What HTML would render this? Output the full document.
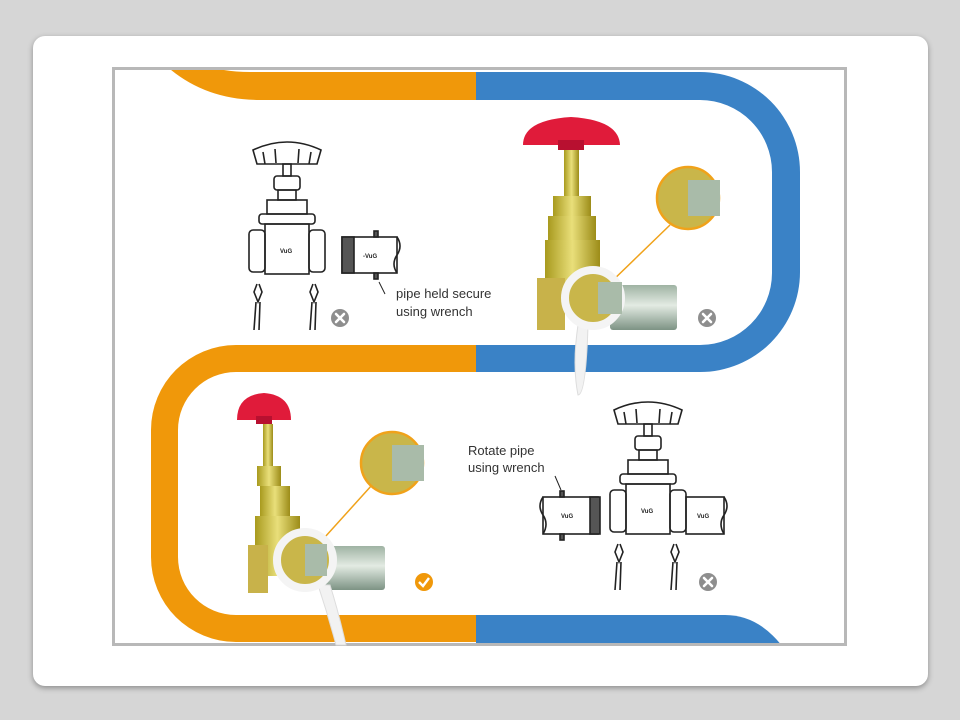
<!DOCTYPE html>
<html><head><meta charset="utf-8"><style>
html,body{margin:0;padding:0;background:#d6d6d6;}
body{width:960px;height:720px;position:relative;overflow:hidden;font-family:"Liberation Sans",sans-serif;}
.card{position:absolute;left:33px;top:36px;width:895px;height:650px;background:#fff;border-radius:12px;box-shadow:0 2px 6px rgba(0,0,0,.35);}
svg{position:absolute;left:0;top:0;}
</style></head><body>
<div class="card"></div>
<svg width="960" height="720" viewBox="0 0 960 720">
<defs>
<clipPath id="fr"><rect x="115" y="70" width="729" height="573"/></clipPath>
<linearGradient id="brass" x1="0" x2="1"><stop offset="0" stop-color="#a89a1e"/><stop offset=".5" stop-color="#e9df7a"/><stop offset="1" stop-color="#9c8c18"/></linearGradient>
<linearGradient id="pipe" x1="0" y1="0" x2="0" y2="1"><stop offset="0" stop-color="#9fb3a3"/><stop offset=".45" stop-color="#e3ebe3"/><stop offset="1" stop-color="#7d9384"/></linearGradient>
<g id="lv" fill="none" stroke="#222" stroke-width="1.6">
  <path d="M-34,-90 q34,-16 68,0 l-4,14 h-60 z"/>
  <path d="M-24,-88 l2,12 M-12,-91 l1,14 M12,-91 l-1,14 M24,-88 l-2,12"/>
  <rect x="-4" y="-76" width="8" height="12"/>
  <rect x="-13" y="-64" width="26" height="14" rx="3"/>
  <rect x="-9" y="-50" width="18" height="10"/>
  <rect x="-20" y="-40" width="40" height="14"/>
  <rect x="-28" y="-26" width="56" height="10" rx="3"/>
  <rect x="-22" y="-16" width="44" height="50"/>
  <rect x="-38" y="-10" width="16" height="42" rx="4"/>
  <rect x="22" y="-10" width="16" height="42" rx="4"/>
  <path d="M-30,44 l-3,8 l4,10 l4,-10 l-3,-8 M-31,62 l-2,28 M-27,62 l-1,28 M26,44 l-3,8 l4,10 l4,-10 l-3,-8 M25,62 l-2,28 M29,62 l-1,28"/>
  <text x="-7" y="13" font-size="6" fill="#222" stroke="none" font-weight="bold">VuG</text>
</g>
<g id="xi"><circle r="9" fill="#8e8e8e"/><path d="M-4,-4 L4,4 M4,-4 L-4,4" stroke="#fff" stroke-width="2.6" stroke-linecap="round"/></g>
</defs>
<rect x="113.5" y="68.5" width="732" height="576" fill="#fff" stroke="#b8b8b8" stroke-width="3"/>
<g clip-path="url(#fr)">
  <!-- top orange -->
  <path d="M160,60 Q200,100 260,100 L476,100 L476,72 L250,72 Q215,72 195,60 Z" fill="#f0980a"/>
  <!-- blue loop -->
  <path d="M476,72 H700 A100,100 0 0 1 800,172 V272 A100,100 0 0 1 700,372 H476 V345 H700 A72,72 0 0 0 772,273 V172 A72,72 0 0 0 700,100 H476 Z" fill="#3a82c6"/>
  <!-- middle orange + left + bottom -->
  <path d="M476,345 H236 A85,85 0 0 0 151,430 V557 A85,85 0 0 0 236,642 H476 V615 H236 A58,58 0 0 1 178,557 V430 A58,58 0 0 1 236,372 H476 Z" fill="#f0980a"/>
  <!-- bottom blue -->
  <path d="M476,615 H725 Q760,615 785,650 L476,650 Z" fill="#3a82c6"/>
</g>
<!-- top-left line valve -->
<use href="#lv" x="287" y="240"/>
<g fill="none" stroke="#222" stroke-width="1.6">
  <rect x="342" y="237" width="55" height="36"/>
  <rect x="342" y="237" width="12" height="36" fill="#555"/>
  <path d="M397,237 q6,9 0,18 q-6,9 0,18"/>
  <rect x="374" y="231" width="4" height="6" fill="#555"/><rect x="374" y="273" width="4" height="6" fill="#555"/>
  <path d="M379,282 l6,12" stroke-width="1"/>
</g>
<text x="363" y="258" font-size="6" font-weight="bold" fill="#222">-VuG</text>
<text x="396" y="298" font-size="13" fill="#333">pipe held secure</text>
<text x="396" y="316" font-size="13" fill="#333">using wrench</text>
<use href="#xi" x="340" y="318"/>
<!-- top-right colored valve -->
<g>
  <path d="M523,145 q0,-25 48,-28 q48,3 49,28 z" fill="#e01b3a"/>
  <rect x="558" y="140" width="26" height="10" fill="#b81030"/>
  <rect x="564" y="150" width="15" height="46" fill="url(#brass)"/>
  <rect x="553" y="196" width="38" height="20" fill="url(#brass)"/>
  <rect x="548" y="216" width="48" height="24" fill="url(#brass)"/>
  <rect x="545" y="240" width="55" height="60" fill="url(#brass)"/>
  <rect x="537" y="278" width="28" height="52" fill="#c8b24a"/>
  <rect x="610" y="285" width="67" height="45" rx="3" fill="url(#pipe)"/>
  <line x1="608" y1="285" x2="670" y2="225" stroke="#f0a21a" stroke-width="1.5"/>
  <path d="M578,325 q-6,40 0,70 q8,0 10,-70 z" fill="#f2f2f2" stroke="#ddd"/>
  <circle cx="593" cy="298" r="28" fill="#c9b64a" stroke="#f4f4f4" stroke-width="8"/>
  <rect x="598" y="282" width="24" height="32" fill="#a9bba9"/>
  <circle cx="688" cy="198" r="31" fill="#c9b64a" stroke="#f0a21a" stroke-width="2.5"/>
  <rect x="688" y="180" width="32" height="36" fill="#a9bba9"/>
</g>
<use href="#xi" x="707" y="318"/>
<!-- bottom-left colored valve -->
<g>
  <path d="M237,420 q0,-25 27,-27 q27,2 27,27 z" fill="#e01b3a"/>
  <rect x="256" y="416" width="16" height="8" fill="#b81030"/>
  <rect x="263" y="424" width="10" height="42" fill="url(#brass)"/>
  <rect x="257" y="466" width="24" height="20" fill="url(#brass)"/>
  <rect x="260" y="486" width="30" height="30" fill="url(#brass)"/>
  <rect x="255" y="516" width="45" height="60" fill="url(#brass)"/>
  <rect x="248" y="545" width="20" height="48" fill="#c8b24a"/>
  <rect x="320" y="546" width="65" height="44" rx="3" fill="url(#pipe)"/>
  <line x1="325" y1="537" x2="372" y2="485" stroke="#f0a21a" stroke-width="1.5"/>
  <path d="M318,585 q10,30 18,60 h10 q-8,-35 -16,-60 z" fill="#f2f2f2" stroke="#ddd"/>
  <circle cx="305" cy="560" r="28" fill="#c9b64a" stroke="#f4f4f4" stroke-width="8"/>
  <rect x="305" y="544" width="22" height="32" fill="#a9bba9"/>
  <circle cx="392" cy="463" r="31" fill="#c9b64a" stroke="#f0a21a" stroke-width="2.5"/>
  <rect x="392" y="445" width="32" height="36" fill="#a9bba9"/>
</g>
<circle cx="424" cy="582" r="9" fill="#f0980a"/><path d="M419,582 l4,4 l6,-8" fill="none" stroke="#fff" stroke-width="2.4"/>
<!-- bottom-right line valve -->
<use href="#lv" x="648" y="500"/>
<g fill="none" stroke="#222" stroke-width="1.6">
  <rect x="543" y="497" width="55" height="37"/>
  <rect x="590" y="497" width="10" height="37" fill="#555"/>
  <path d="M543,497 q-6,9 0,18 q6,9 0,19"/>
  <rect x="560" y="491" width="4" height="6" fill="#555"/><rect x="560" y="534" width="4" height="6" fill="#555"/>
  <rect x="686" y="497" width="38" height="37"/>
  <path d="M724,497 q6,9 0,18 q-6,9 0,19"/>
  <path d="M555,476 l6,14" stroke-width="1"/>
</g>
<text x="561" y="518" font-size="6" font-weight="bold" fill="#222">VuG</text>
<text x="697" y="518" font-size="6" font-weight="bold" fill="#222">VuG</text>
<text x="468" y="455" font-size="13" fill="#333">Rotate pipe</text>
<text x="468" y="472" font-size="13" fill="#333">using wrench</text>
<use href="#xi" x="708" y="582"/>
</svg>
</body></html>
